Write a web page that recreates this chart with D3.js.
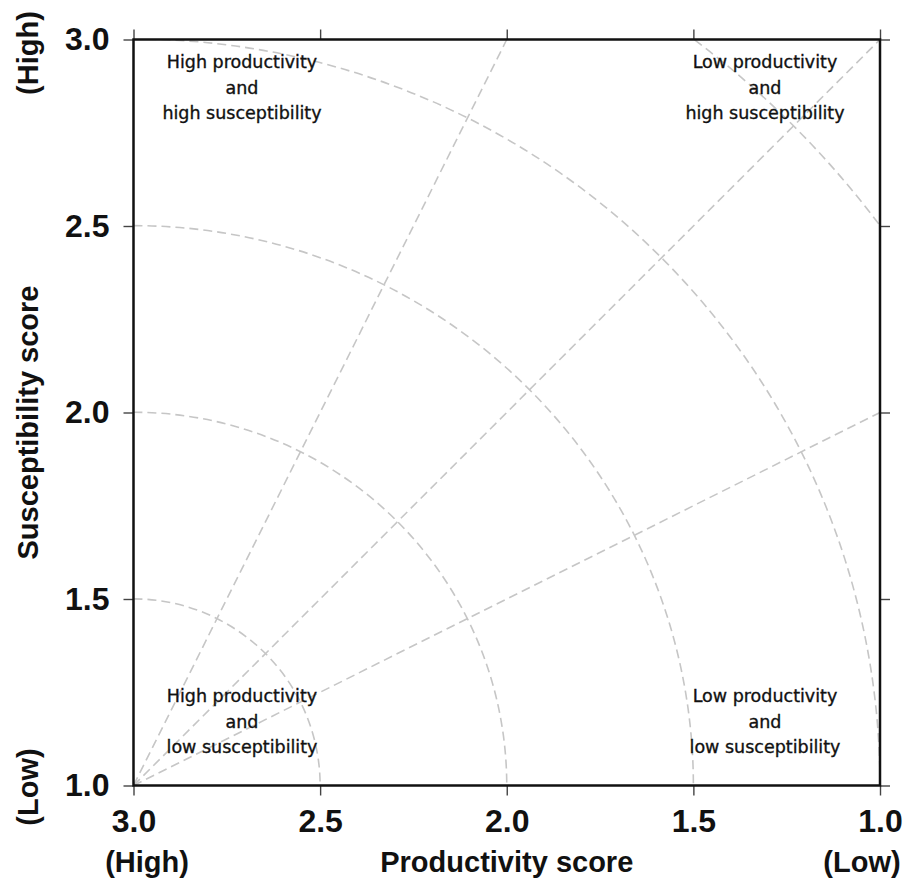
<!DOCTYPE html>
<html>
<head>
<meta charset="utf-8">
<script src="https://cdn.jsdelivr.net/npm/d3@7"></script>
<style>
  html, body { margin: 0; padding: 0; background: #fff; }
  svg { display: block; }
</style>
</head>
<body>
<svg id="chart" width="909" height="884"></svg>
<script>
// ---- data ----
const xTicks = [3.0, 2.5, 2.0, 1.5, 1.0];
const yTicks = [1.0, 1.5, 2.0, 2.5, 3.0];
const arcRadii = [0.5, 1.0, 1.5, 2.0, 2.5];
const rayEnds = [[2.0, 3.0], [1.0, 3.0], [1.0, 2.0]];
const origin = [3.0, 1.0];
const quadrantLabels = [
  ["High productivity", "and", "high susceptibility"],
  ["Low productivity", "and", "high susceptibility"],
  ["High productivity", "and", "low susceptibility"],
  ["Low productivity", "and", "low susceptibility"]
];
const xTitle = "Productivity score";
const yTitle = "Susceptibility score";
const xEndLabels = ["(High)", "(Low)"];
const yEndLabels = ["(Low)", "(High)"];

// ---- layout ----
const svg = d3.select("#chart");
const L = 133.5, R = 880, T = 39.5, B = 785.5;
const x = d3.scaleLinear().domain([3, 1]).range([L, R]);
const y = d3.scaleLinear().domain([1, 3]).range([B, T]);

const tickFont = "'Liberation Sans', Arial, sans-serif";
const labelFont = "'DejaVu Sans', sans-serif";

svg.append("defs").append("clipPath").attr("id", "clip")
  .append("rect").attr("x", L).attr("y", T).attr("width", R - L).attr("height", B - T);

const g = svg.append("g").attr("clip-path", "url(#clip)");
const grid = { stroke: "#c6c6c6", width: 1.6, dash: "9,5" };

// arcs
const cx = x(origin[0]), cy = y(origin[1]);
arcRadii.forEach(r => {
  const rp = x(origin[0] - r) - cx;
  const p = d3.path();
  p.arc(cx, cy, rp, -Math.PI / 2, 0, false);
  g.append("path").attr("d", p.toString())
    .attr("fill", "none").attr("stroke", grid.stroke)
    .attr("stroke-width", grid.width).attr("stroke-dasharray", grid.dash);
});
// rays
rayEnds.forEach(e => {
  g.append("line")
    .attr("x1", cx).attr("y1", cy).attr("x2", x(e[0])).attr("y2", y(e[1]))
    .attr("stroke", grid.stroke).attr("stroke-width", grid.width)
    .attr("stroke-dasharray", grid.dash);
});

// axes (ticks on all sides, outward)
function styleAxis(sel) {
  sel.select(".domain").remove();
  sel.selectAll(".tick line").attr("stroke", "#444").attr("stroke-width", 1.4);
}
const fmt = d3.format(".1f");
const axB = svg.append("g").attr("transform", `translate(0,${B})`)
  .call(d3.axisBottom(x).tickValues(xTicks).tickFormat(fmt).tickSize(10).tickPadding(14));
styleAxis(axB);
axB.selectAll(".tick text").attr("font-family", tickFont).attr("font-weight", "bold")
  .attr("font-size", 32).attr("fill", "#111");

const axT = svg.append("g").attr("transform", `translate(0,${T})`)
  .call(d3.axisTop(x).tickValues(xTicks).tickFormat("").tickSize(10));
styleAxis(axT);

const axL = svg.append("g").attr("transform", `translate(${L},0)`)
  .call(d3.axisLeft(y).tickValues(yTicks).tickFormat(fmt).tickSize(10).tickPadding(14));
styleAxis(axL);
axL.selectAll(".tick text").attr("font-family", tickFont).attr("font-weight", "bold")
  .attr("font-size", 32).attr("fill", "#111");

const axR = svg.append("g").attr("transform", `translate(${R},0)`)
  .call(d3.axisRight(y).tickValues(yTicks).tickFormat("").tickSize(10));
styleAxis(axR);

// frame
svg.append("rect").attr("x", L).attr("y", T).attr("width", R - L).attr("height", B - T)
  .attr("fill", "none").attr("stroke", "#111").attr("stroke-width", 2.5);

// quadrant labels
const qPos = [[242, 68], [765, 68], [242, 702], [765, 702]];
quadrantLabels.forEach((lines, i) => {
  const t = svg.append("text").attr("text-anchor", "middle")
    .attr("font-family", labelFont).attr("font-size", 17.5).attr("fill", "#111")
    .attr("stroke", "#111").attr("stroke-width", 0.35);
  lines.forEach((s, j) => {
    t.append("tspan").attr("x", qPos[i][0]).attr("y", qPos[i][1] + j * 25.5).text(s);
  });
});

// titles
const titleStyle = s => s.attr("font-family", tickFont).attr("font-weight", "bold")
  .attr("font-size", 29).attr("fill", "#111").attr("text-anchor", "middle");

svg.append("text").attr("x", (L + R) / 2).attr("y", 872).text(xTitle).call(titleStyle);
svg.append("text").attr("x", 147).attr("y", 872).text(xEndLabels[0]).call(titleStyle);
svg.append("text").attr("x", 862).attr("y", 872).text(xEndLabels[1]).call(titleStyle);

svg.append("text").attr("transform", `translate(38,${(T + B) / 2 + 10}) rotate(-90)`)
  .text(yTitle).call(titleStyle);
svg.append("text").attr("transform", `translate(38,787) rotate(-90)`)
  .text(yEndLabels[0]).call(titleStyle);
svg.append("text").attr("transform", `translate(38,53) rotate(-90)`)
  .text(yEndLabels[1]).call(titleStyle);
</script>
</body>
</html>
